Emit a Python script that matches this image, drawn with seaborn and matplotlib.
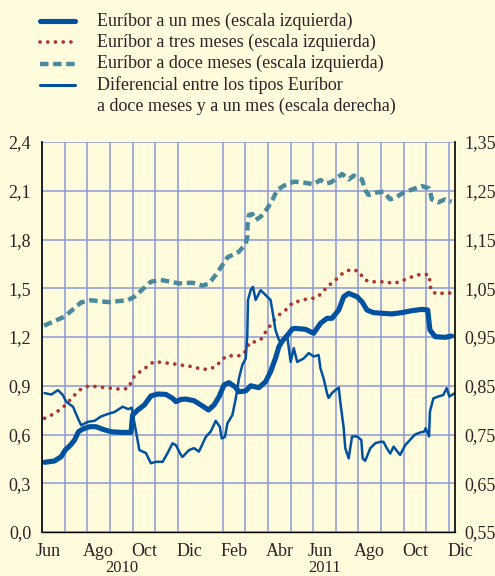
import numpy as np
import pandas as pd
import matplotlib
matplotlib.use("Agg")
import matplotlib.pyplot as plt
import seaborn as sns
from matplotlib.lines import Line2D
from matplotlib.transforms import blended_transform_factory

# ---------------- data (x in months since 1 June 2010) ----------------
t_12m = [0.08, 0.98, 1.72, 2.16, 2.90, 3.78, 4.08, 4.81, 5.25, 6.06, 6.65, 7.10, 7.39, 7.68,
         7.98, 8.20, 8.71, 9.01, 9.08, 9.09, 9.15, 9.30, 9.45, 9.67, 9.96, 10.19, 10.41, 10.70,
         11.14, 11.51, 12.02, 12.32, 12.54, 12.76, 12.98, 13.28, 13.57, 13.79, 14.16, 14.30,
         14.45, 14.75, 15.11, 15.41, 15.70, 16.00, 16.44, 16.81, 17.13, 17.17, 17.25, 17.54,
         17.84, 18.13]
v_12m = [1.270, 1.325, 1.413, 1.426, 1.415, 1.426, 1.448, 1.540, 1.551, 1.530, 1.534, 1.516,
         1.530, 1.582, 1.643, 1.690, 1.725, 1.772, 1.817, 1.889, 1.951, 1.957, 1.920, 1.940,
         1.990, 2.043, 2.105, 2.131, 2.156, 2.152, 2.140, 2.166, 2.146, 2.150, 2.170, 2.203,
         2.170, 2.193, 2.170, 2.105, 2.074, 2.088, 2.094, 2.047, 2.063, 2.088, 2.111, 2.129,
         2.115, 2.105, 2.047, 2.029, 2.047, 2.033]

t_3m = [0.10, 0.47, 0.76, 1.02, 1.25, 1.50, 1.75, 2.09, 2.43, 2.78, 3.12, 3.49, 3.81, 3.93,
        4.08, 4.37, 4.64, 4.93, 5.28, 5.62, 5.96, 6.33, 6.68, 7.02, 7.34, 7.68, 7.90, 8.15,
        8.49, 8.82, 9.04, 9.18, 9.48, 9.74, 9.92, 10.14, 10.33, 10.60, 10.89, 11.09, 11.40,
        11.76, 12.10, 12.39, 12.61, 12.91, 13.13, 13.39, 13.72, 14.04, 14.23, 14.48, 14.82,
        15.19, 15.53, 15.85, 16.19, 16.51, 16.83, 17.14, 17.17, 17.22, 17.50, 17.84, 18.18]
v_3m = [0.700, 0.724, 0.751, 0.780, 0.816, 0.853, 0.884, 0.900, 0.894, 0.888, 0.884, 0.878,
        0.884, 0.921, 0.960, 0.991, 1.017, 1.048, 1.044, 1.038, 1.032, 1.023, 1.017, 1.003,
        1.001, 1.017, 1.052, 1.083, 1.085, 1.085, 1.120, 1.167, 1.171, 1.192, 1.239, 1.278,
        1.315, 1.350, 1.377, 1.413, 1.421, 1.436, 1.440, 1.469, 1.510, 1.540, 1.571, 1.602,
        1.617, 1.602, 1.557, 1.540, 1.540, 1.540, 1.530, 1.540, 1.561, 1.577, 1.588, 1.582,
        1.530, 1.483, 1.463, 1.473, 1.469]

t_1m = [0.10, 0.54, 0.84, 1.02, 1.25, 1.43, 1.60, 1.80, 2.09, 2.38, 2.68, 3.05, 3.49, 3.93,
        4.00, 4.23, 4.52, 4.81, 5.11, 5.47, 5.77, 5.92, 6.14, 6.36, 6.72, 7.02, 7.36, 7.61,
        7.83, 8.05, 8.27, 8.53, 8.71, 9.01, 9.23, 9.59, 9.89, 10.11, 10.33, 10.48, 10.63,
        10.85, 11.08, 11.21, 11.66, 12.02, 12.32, 12.61, 12.83, 13.13, 13.35, 13.57, 13.94,
        14.16, 14.38, 14.67, 15.04, 15.48, 15.93, 16.37, 16.81, 17.07, 17.17, 17.40, 17.84,
        18.13]
v_1m = [0.429, 0.437, 0.464, 0.505, 0.535, 0.566, 0.617, 0.634, 0.648, 0.648, 0.632, 0.617,
        0.613, 0.613, 0.720, 0.751, 0.782, 0.837, 0.849, 0.847, 0.823, 0.802, 0.816, 0.818,
        0.808, 0.782, 0.751, 0.782, 0.833, 0.905, 0.919, 0.894, 0.863, 0.868, 0.900, 0.888,
        0.925, 0.986, 1.070, 1.140, 1.175, 1.210, 1.250, 1.253, 1.247, 1.223, 1.284, 1.315,
        1.315, 1.366, 1.448, 1.469, 1.448, 1.417, 1.366, 1.350, 1.346, 1.342, 1.350, 1.362,
        1.370, 1.366, 1.243, 1.202, 1.198, 1.206]

t_spread = [0.10, 0.40, 0.69, 0.91, 1.06, 1.36, 1.58, 1.72, 2.02, 2.31, 2.60, 2.90, 3.19,
            3.56, 3.81, 3.96, 4.15, 4.30, 4.59, 4.81, 5.03, 5.33, 5.55, 5.77, 5.92, 6.14,
            6.21, 6.50, 6.72, 6.94, 7.24, 7.46, 7.68, 7.86, 7.95, 8.09, 8.20, 8.42, 8.57,
            8.71, 8.86, 9.01, 9.08, 9.11, 9.23, 9.33, 9.45, 9.67, 9.89, 10.11, 10.21, 10.33,
            10.48, 10.55, 10.85, 11.00, 11.14, 11.29, 11.58, 11.80, 12.02, 12.24, 12.32,
            12.46, 12.61, 12.68, 12.83, 12.98, 13.13, 13.20, 13.35, 13.42, 13.57, 13.72,
            13.94, 14.13, 14.19, 14.30, 14.53, 14.75, 14.97, 15.11, 15.26, 15.41, 15.56,
            15.85, 16.07, 16.29, 16.51, 16.73, 16.92, 16.98, 17.13, 17.17, 17.32, 17.54,
            17.76, 17.91, 18.03, 18.28]
v_spread = [0.835, 0.832, 0.841, 0.831, 0.817, 0.807, 0.783, 0.769, 0.776, 0.778, 0.787,
            0.792, 0.796, 0.807, 0.802, 0.805, 0.756, 0.718, 0.712, 0.691, 0.694, 0.694,
            0.712, 0.732, 0.728, 0.708, 0.704, 0.718, 0.722, 0.715, 0.745, 0.756, 0.778,
            0.766, 0.742, 0.745, 0.773, 0.790, 0.824, 0.865, 0.893, 0.906, 0.954, 1.026,
            1.046, 1.053, 1.026, 1.046, 1.036, 1.026, 0.999, 0.964, 0.944, 0.940, 0.951,
            0.899, 0.927, 0.899, 0.906, 0.917, 0.910, 0.913, 0.886, 0.865, 0.835, 0.825,
            0.835, 0.841, 0.846, 0.817, 0.763, 0.722, 0.701, 0.746, 0.746, 0.739, 0.701,
            0.696, 0.722, 0.732, 0.735, 0.735, 0.722, 0.711, 0.725, 0.708, 0.728, 0.739,
            0.750, 0.754, 0.756, 0.763, 0.746, 0.797, 0.824, 0.828, 0.831, 0.845, 0.828,
            0.835]

month_labels = ["Jun", "Ago", "Oct", "Dic", "Feb", "Abr", "Jun", "Ago", "Oct", "Dic"]
month_label_pos = [0.28, 2.5, 4.5, 6.5, 8.5, 10.5, 12.3, 14.5, 16.5, 18.5]
year_labels = ["2010", "2011"]
year_label_pos = [3.5, 12.5]
left_ticks = [0.0, 0.3, 0.6, 0.9, 1.2, 1.5, 1.8, 2.1, 2.4]
right_ticks = [0.55, 0.65, 0.75, 0.85, 0.95, 1.05, 1.15, 1.25, 1.35]
legend_labels = ["Euríbor a un mes (escala izquierda)",
                 "Euríbor a tres meses (escala izquierda)",
                 "Euríbor a doce meses (escala izquierda)",
                 "Diferencial entre los tipos Euríbor",
                 "a doce meses y a un mes (escala derecha)"]

# ---------------- style ----------------
BG = "#FFFBDD"
GRID = "#8A99D6"
BLUE = "#0052A0"
RED = "#B0352F"
TEAL = "#4A8A9C"
TXT = "#2A2526"

sns.set_theme(style="white")
plt.rcParams["font.family"] = ["Liberation Serif", "DejaVu Serif"]

W, H = 495, 576
fig = plt.figure(figsize=(W / 100, H / 100), dpi=100, facecolor=BG)
ax = fig.add_axes([42.3 / W, 1 - 532 / H, (455 - 42.3) / W, 390 / H])
ax.set_facecolor(BG)
ax2 = ax.twinx()

sns.lineplot(x=t_1m, y=v_1m, ax=ax, color=BLUE, lw=3.7, estimator=None, sort=False,
             solid_joinstyle="round")
sns.lineplot(x=t_3m, y=v_3m, ax=ax, color=RED, lw=2.7, estimator=None, sort=False,
             linestyle=(0, (0.01, 2.05)), dash_capstyle="round")
sns.lineplot(x=t_12m, y=v_12m, ax=ax, color=TEAL, lw=3.2, estimator=None, sort=False,
             linestyle=(0, (1.9, 1.05)))
sns.lineplot(x=t_spread, y=v_spread, ax=ax2, color=BLUE, lw=1.8, estimator=None, sort=False)

ax.set_xlim(0.06, 18.28)
ax.set_ylim(0, 2.4)
ax2.set_ylim(0.55, 1.35)

ax.set_yticks(left_ticks)
ax.set_yticklabels([f"{v:.1f}".replace(".", ",") for v in left_ticks])
ax2.set_yticks(right_ticks)
ax2.set_yticklabels([f"{v:.2f}".replace(".", ",") for v in right_ticks])
ax.tick_params(axis="y", length=0, pad=8, labelsize=13, labelcolor=TXT)
ax2.tick_params(axis="y", length=0, pad=7, labelsize=13, labelcolor=TXT)

ax.set_xticks(list(range(0, 19)), minor=True)
ax.set_xticks([7])
ax.set_xticklabels([""])
ax.tick_params(axis="x", which="minor", direction="out", length=5, width=1, color="black")
ax.tick_params(axis="x", which="major", direction="out", length=11, width=1, color="black")

ax.xaxis.grid(True, which="minor", color=GRID, lw=1.1)
ax.xaxis.grid(False, which="major")
ax.yaxis.grid(True, which="major", color=GRID, lw=1.1)
ax2.grid(False)
ax.set_axisbelow(True)

for a in (ax, ax2):
    a.spines["top"].set_visible(False)
ax.spines["right"].set_visible(False)
ax2.spines["left"].set_visible(False)
ax2.spines["bottom"].set_visible(False)
ax.spines["left"].set_color("black")
ax.spines["left"].set_linewidth(1.2)
ax.spines["bottom"].set_color("black")
ax.spines["bottom"].set_linewidth(1.0)
ax2.spines["right"].set_color("black")
ax2.spines["right"].set_linewidth(1.2)
ax.set_xlabel("")
ax.set_ylabel("")
ax2.set_ylabel("")

trans = blended_transform_factory(ax.transData, ax.transAxes)
for lab, pos in zip(month_labels, month_label_pos):
    ax.text(pos, -20 / 390, lab, transform=trans, ha="center", va="center",
            fontsize=13, color=TXT, clip_on=False)
for lab, pos in zip(year_labels, year_label_pos):
    ax.text(pos, -36 / 390, lab, transform=trans, ha="center", va="center",
            fontsize=12, color=TXT, clip_on=False)

# ---------------- legend ----------------
rows = [21, 42, 63.5, 85]
styles = [dict(color=BLUE, lw=3.7),
          dict(color=RED, lw=2.7, linestyle=(0, (0.01, 2.05)), dash_capstyle="round"),
          dict(color=TEAL, lw=3.2, linestyle=(0, (1.9, 1.05))),
          dict(color=BLUE, lw=2.2)]
for y, st in zip(rows, styles):
    fig.add_artist(Line2D([40 / W, 75 / W], [1 - y / H] * 2, transform=fig.transFigure, **st))
for y, lab in zip(rows + [106.5], legend_labels):
    fig.text(97 / W, 1 - y / H, lab, ha="left", va="center", fontsize=13, color=TXT)

fig.savefig("out.png", dpi=100, facecolor=BG)
